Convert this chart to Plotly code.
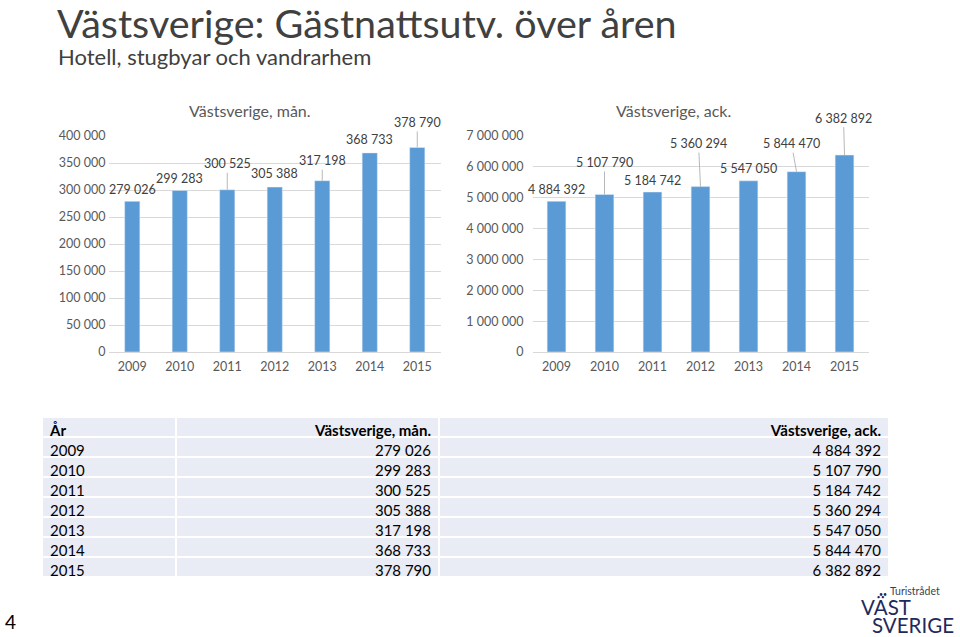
import plotly.graph_objects as go

# ---- data ----
years = [2009, 2010, 2011, 2012, 2013, 2014, 2015]
man_values = [279026, 299283, 300525, 305388, 317198, 368733, 378790]
ack_values = [4884392, 5107790, 5184742, 5360294, 5547050, 5844470, 6382892]
title_text = "Västsverige: Gästnattsutv. över åren"
subtitle_text = "Hotell, stugbyar och vandrarhem"
year_header = "År"
man_name = "Västsverige, mån."
ack_name = "Västsverige, ack."

# ---- label layout (pixel offsets of data labels, leader line flags) ----
man_label_dy = [-12, -12, -26, -14, -20, -13, -25]
man_leader = [False, False, True, False, True, False, True]
man_label_dx = [0, 0, 0, 0, 0, 0, 0]
ack_label_dy = [-12, -32, -12, -43, -12, -28, -37]
ack_leader = [False, True, False, True, False, True, True]
ack_label_dx = [0, 0, 0, -2, 0, -5, -1]

W, H = 960, 637
FONT = "Lato, 'Open Sans', sans-serif"
BAR = "#5b9bd5"
GRID = "#d9d9d9"
AXT = "#595959"
LBL = "#404040"
NAVY = "#1f2a5c"


def fmt(v):
    return f"{v:,}".replace(",", " ")


def px_x(p):
    return p / W


def px_y(p):
    return 1 - p / H


fig = go.Figure()
fig.add_trace(go.Bar(x=years, y=man_values, marker_color=BAR, width=0.32,
                     xaxis="x", yaxis="y", hoverinfo="none"))
fig.add_trace(go.Bar(x=years, y=ack_values, marker_color=BAR, width=0.39,
                     xaxis="x2", yaxis="y2", hoverinfo="none"))

fig.add_trace(go.Table(
    domain=dict(x=[px_x(42), px_x(889)], y=[px_y(581), px_y(417)]),
    columnwidth=[134, 263, 450],
    header=dict(values=[year_header, man_name, ack_name],
                align=["left", "right", "right"],
                fill_color="#e9ebf5", line=dict(color="white", width=2),
                font=dict(family=FONT, size=15, color="black", weight="bold"), height=20),
    cells=dict(values=[[str(y) for y in years], [fmt(v) for v in man_values],
                       [fmt(v) for v in ack_values]],
               align=["left", "right", "right"],
               fill_color="#e9ebf5", line=dict(color="white", width=2),
               font=dict(family=FONT, size=15, color="black"), height=20),
))

axis_common = dict(showgrid=False, showline=False, ticks="", zeroline=False,
                   tickmode="array", tickvals=years, ticktext=[str(y) for y in years],
                   range=[years[0] - 0.5, years[-1] + 0.5], automargin=False,
                   ticklabelstandoff=5,
                   tickfont=dict(family=FONT, size=12.5, color=AXT), fixedrange=True)
yaxis_common = dict(showgrid=True, gridcolor=GRID, gridwidth=1, zeroline=True,
                    zerolinecolor=GRID, zerolinewidth=1, showline=False, ticks="",
                    tickformat=",d", automargin=False,
                    tickfont=dict(family=FONT, size=12.5, color=AXT),
                    fixedrange=True)

annotations = []
for i, yr in enumerate(years):
    annotations.append(dict(x=yr, y=man_values[i], xref="x", yref="y", text=fmt(man_values[i]),
                            showarrow=True, arrowhead=0, arrowwidth=0.8, standoff=0,
                            arrowcolor="#a6a6a6" if man_leader[i] else "rgba(0,0,0,0)",
                            ax=man_label_dx[i], ay=man_label_dy[i],
                            font=dict(family=FONT, size=12.5, color=LBL)))
    annotations.append(dict(x=yr, y=ack_values[i], xref="x2", yref="y2", text=fmt(ack_values[i]),
                            showarrow=True, arrowhead=0, arrowwidth=0.8, standoff=0,
                            arrowcolor="#a6a6a6" if ack_leader[i] else "rgba(0,0,0,0)",
                            ax=ack_label_dx[i], ay=ack_label_dy[i],
                            font=dict(family=FONT, size=12.5, color=LBL)))

annotations += [
    dict(text=man_name, x=px_x(250), y=px_y(110), xref="paper", yref="paper",
         showarrow=False, xanchor="center", yanchor="middle",
         font=dict(family=FONT, size=16, color=AXT)),
    dict(text=ack_name, x=px_x(673), y=px_y(110), xref="paper", yref="paper",
         showarrow=False, xanchor="center", yanchor="middle",
         font=dict(family=FONT, size=16, color=AXT)),
    dict(text=title_text, x=px_x(55), y=px_y(22), xref="paper", yref="paper",
         showarrow=False, xanchor="left", yanchor="middle",
         font=dict(family=FONT, size=39.5, color="#404040")),
    dict(text=subtitle_text, x=px_x(56), y=px_y(56), xref="paper", yref="paper",
         showarrow=False, xanchor="left", yanchor="middle",
         font=dict(family=FONT, size=22, color="#404040")),
    dict(text="4", x=px_x(3), y=px_y(621), xref="paper", yref="paper",
         showarrow=False, xanchor="left", yanchor="middle",
         font=dict(family=FONT, size=19, color="black")),
    dict(text="••", x=px_x(877), y=px_y(594), xref="paper", yref="paper",
         showarrow=False, xanchor="left", yanchor="middle",
         font=dict(family=FONT, size=7, color=NAVY)),
    dict(text="Turistrådet", x=px_x(888), y=px_y(591), xref="paper", yref="paper",
         showarrow=False, xanchor="left", yanchor="middle",
         font=dict(family=FONT, size=10.5, color="#3a3f55")),
    dict(text="VÄST", x=px_x(859), y=px_y(607), xref="paper", yref="paper",
         showarrow=False, xanchor="left", yanchor="middle",
         font=dict(family=FONT, size=20.5, color=NAVY)),
    dict(text="SVERIGE", x=px_x(870), y=px_y(624.5), xref="paper", yref="paper",
         showarrow=False, xanchor="left", yanchor="middle",
         font=dict(family=FONT, size=20.5, color=NAVY)),
]

fig.update_layout(
    width=W, height=H, margin=dict(l=0, r=0, t=0, b=0, pad=0, autoexpand=False),
    paper_bgcolor="white", plot_bgcolor="white", showlegend=False,
    separators=", ", bargap=0,
    font=dict(family=FONT),
    xaxis=dict(domain=[px_x(108.5), px_x(441)], anchor="y", **axis_common),
    yaxis=dict(domain=[px_y(352), px_y(136)], range=[0, 400000], dtick=50000,
               anchor="x", ticklabelstandoff=2, **yaxis_common),
    xaxis2=dict(domain=[px_x(532.5), px_x(868.5)], anchor="y2", **axis_common),
    yaxis2=dict(domain=[px_y(352), px_y(136)], range=[0, 7000000], dtick=1000000,
                anchor="x2", ticklabelstandoff=8, **yaxis_common),
    annotations=annotations,
)

fig.write_html("out.html", config={"displayModeBar": False, "staticPlot": True},
               post_script="document.body.style.margin='0';document.body.style.overflow='hidden';")
